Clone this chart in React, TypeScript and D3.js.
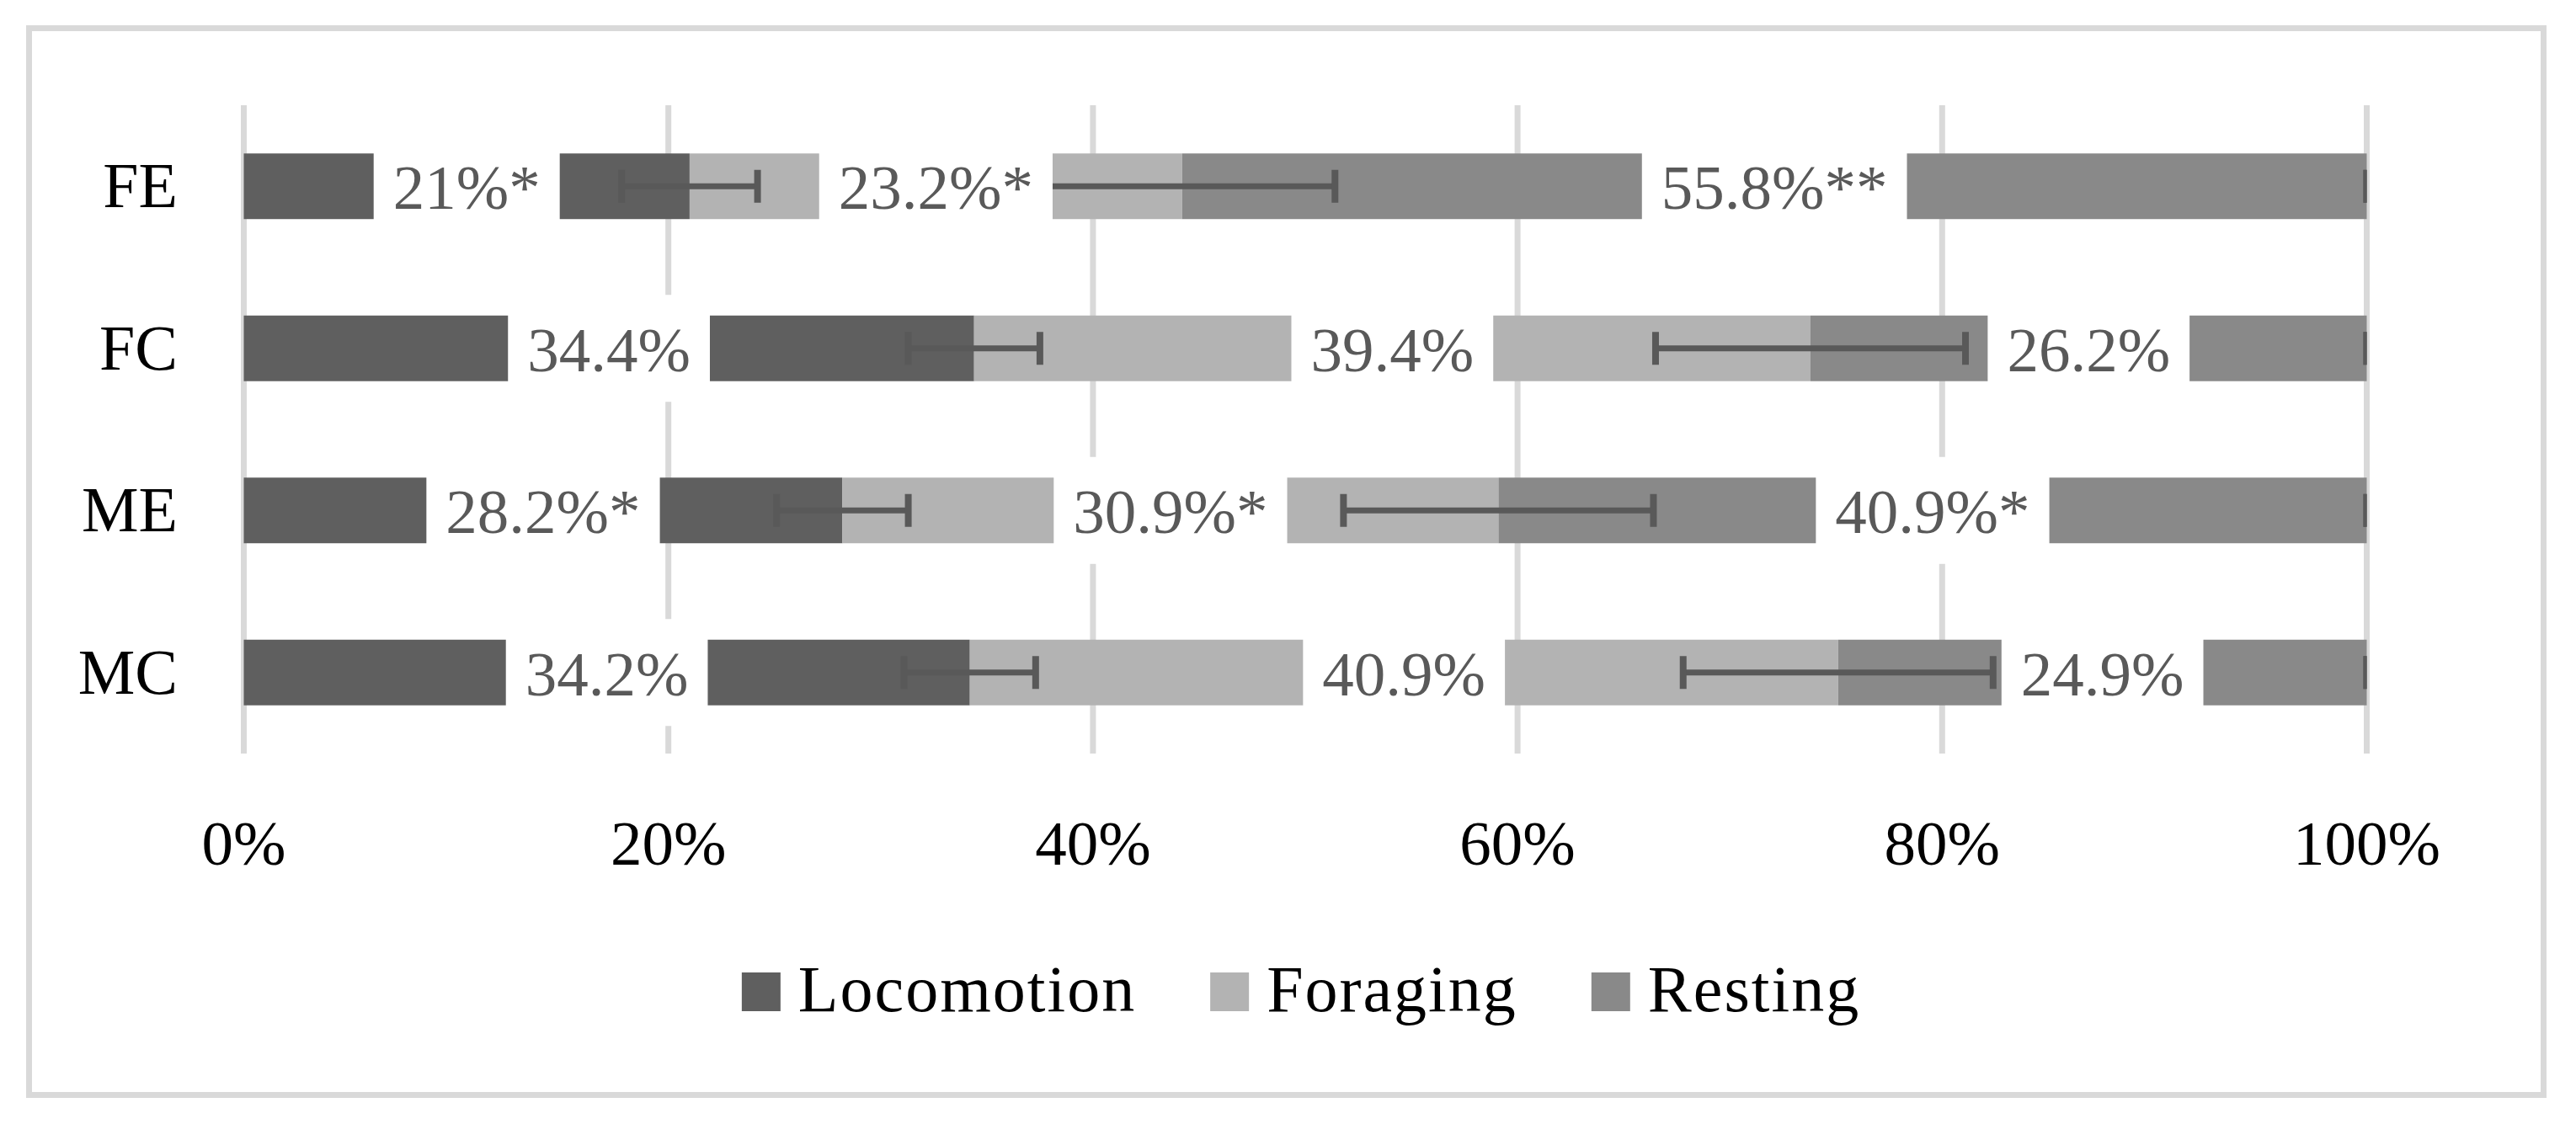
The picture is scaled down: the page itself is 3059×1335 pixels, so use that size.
import React, { useEffect, useRef } from 'react';
import * as d3 from 'd3';

// groups (top to bottom) and the three behaviours, in percent
const groups = ['FE', 'FC', 'ME', 'MC'];
const series = ['Locomotion', 'Foraging', 'Resting'];
const locomotion = [21, 34.4, 28.2, 34.2];
const foraging = [23.2, 39.4, 30.9, 40.9];
const resting = [55.8, 26.2, 40.9, 24.9];
// printed labels (with significance stars)
const locoLabels = ['21%*', '34.4%', '28.2%*', '34.2%'];
const forLabels = ['23.2%*', '39.4%', '30.9%*', '40.9%'];
const restLabels = ['55.8%**', '26.2%', '40.9%*', '24.9%'];
// error bar half widths
const locoErr = [3.2, 3.1, 3.1, 3.1];
const forErr = [7.2, 7.3, 7.3, 7.3];
const restErr = [0, 0, 0, 0];
const xTicks = [0, 20, 40, 60, 80, 100];

const colors = ['#5f5f5f', '#b3b3b3', '#898989'];

const App = () => {
  const svgRef = useRef(null);

  const width = 3059;
  const height = 1335;
  const font = '"Liberation Serif", "Times New Roman", serif';

  const xScale = d3.scaleLinear().domain([0, 100]).range([289.5, 2810.5]);
  const yScale = d3.scaleBand().domain(groups).range([125, 895]).paddingInner(0.595).paddingOuter(0.2975);

  useEffect(() => {
    const svg = d3.select(svgRef.current);
    svg.selectAll('*').remove();

    // outer frame
    svg
      .append('rect')
      .attr('x', 34.5)
      .attr('y', 33.5)
      .attr('width', 2986)
      .attr('height', 1267)
      .attr('fill', '#fff')
      .attr('stroke', '#d9d9d9')
      .attr('stroke-width', 7);

    // vertical gridlines
    svg
      .append('g')
      .selectAll('line')
      .data(xTicks)
      .enter()
      .append('line')
      .attr('x1', (d) => xScale(d))
      .attr('x2', (d) => xScale(d))
      .attr('y1', 125)
      .attr('y2', 895)
      .attr('stroke', '#d9d9d9')
      .attr('stroke-width', 7);

    const rows = groups.map((g, i) => ({
      g,
      vals: [locomotion[i], foraging[i], resting[i]],
      labels: [locoLabels[i], forLabels[i], restLabels[i]],
      errs: [locoErr[i], forErr[i], restErr[i]],
    }));

    const bw = yScale.bandwidth();

    // stacked segments
    rows.forEach((r) => {
      let start = 0;
      r.vals.forEach((v, k) => {
        svg
          .append('rect')
          .attr('x', xScale(start))
          .attr('y', yScale(r.g))
          .attr('width', xScale(start + v) - xScale(start))
          .attr('height', bw)
          .attr('fill', colors[k]);
        start += v;
      });
    });

    // error bars, clipped to the plot area
    svg
      .append('clipPath')
      .attr('id', 'plotclip')
      .append('rect')
      .attr('x', xScale(0))
      .attr('y', 100)
      .attr('width', xScale(100) - xScale(0))
      .attr('height', 820);

    const eg = svg.append('g').attr('clip-path', 'url(#plotclip)');
    rows.forEach((r) => {
      let cum = 0;
      r.vals.forEach((v, k) => {
        cum += v;
        const cy = yScale(r.g) + bw / 2;
        const e = r.errs[k];
        const x0 = xScale(cum - e);
        const x1 = xScale(cum + e);
        if (e > 0) {
          eg.append('line')
            .attr('x1', x0)
            .attr('x2', x1)
            .attr('y1', cy)
            .attr('y2', cy)
            .attr('stroke', '#595959')
            .attr('stroke-width', 7);
        }
        [x0, x1].forEach((cx) => {
          eg.append('line')
            .attr('x1', cx)
            .attr('x2', cx)
            .attr('y1', cy - 19.5)
            .attr('y2', cy + 19.5)
            .attr('stroke', '#595959')
            .attr('stroke-width', 8);
        });
      });
    });

    // data labels on white boxes
    rows.forEach((r) => {
      let start = 0;
      r.vals.forEach((v, k) => {
        const cx = xScale(start + v / 2);
        const cy = yScale(r.g) + bw / 2;
        const lg = svg.append('g');
        const box = lg.append('rect').attr('fill', '#fff');
        const t = lg
          .append('text')
          .attr('x', cx)
          .attr('y', cy + 27)
          .attr('text-anchor', 'middle')
          .style('font-family', font)
          .style('font-size', '75px')
          .attr('fill', '#595959')
          .text(r.labels[k]);
        const w = (t.node() as SVGTextElement).getComputedTextLength();
        box
          .attr('x', cx - w / 2 - 23)
          .attr('y', cy - 63.5)
          .attr('width', w + 46)
          .attr('height', 127);
        start += v;
      });
    });

    // category labels
    svg
      .append('g')
      .selectAll('text')
      .data(groups)
      .enter()
      .append('text')
      .attr('x', 211)
      .attr('y', (d) => yScale(d) + bw / 2 + 25)
      .attr('text-anchor', 'end')
      .style('font-family', font)
      .style('font-size', '76px')
      .attr('fill', '#000')
      .text((d) => d);

    // x tick labels
    svg
      .append('g')
      .selectAll('text')
      .data(xTicks)
      .enter()
      .append('text')
      .attr('x', (d) => xScale(d))
      .attr('y', 1027)
      .attr('text-anchor', 'middle')
      .style('font-family', font)
      .style('font-size', '75px')
      .attr('fill', '#000')
      .text((d) => `${d}%`);

    // legend
    const leg = svg.append('g');
    let lx = 0;
    series.forEach((s, k) => {
      leg
        .append('rect')
        .attr('x', lx)
        .attr('y', 1155)
        .attr('width', 46)
        .attr('height', 46)
        .attr('fill', colors[k]);
      const t = leg
        .append('text')
        .attr('x', lx + 67)
        .attr('y', 1201)
        .style('font-family', font)
        .style('font-size', '78px')
        .style('letter-spacing', '2px')
        .attr('fill', '#000')
        .text(s);
      const w = (t.node() as SVGTextElement).getComputedTextLength();
      lx += 67 + w + (k < series.length - 1 ? 88 : 0);
    });
    leg.attr('transform', `translate(${1545 - lx / 2}, 0)`);
  }, []);

  return (
    <svg
      ref={svgRef}
      width={width}
      height={height}
      style={{ position: 'absolute', left: 0, top: 0, background: '#fff' }}
    />
  );
};

export default App;
